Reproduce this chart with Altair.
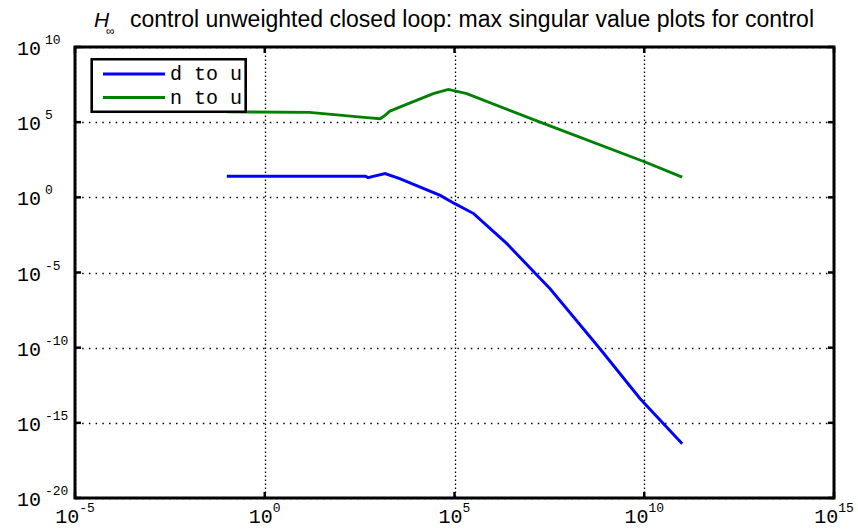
import altair as alt
import pandas as pd

# ---------------- data ----------------
TITLE_H = "H"
TITLE_SUB = "\u221e"
TITLE_TEXT = "control unweighted closed loop: max singular value plots for control"

series_names = ["d to u", "n to u"]
series_colors = ["#0000ff", "#008000"]

d_freq = [0.1, 450, 525, 720, 1480, 3600, 4.2e4, 1.02e5, 3.2e5, 2.4e6, 1.5e7, 3.3e7, 6.8e8, 7.8e9, 1e11]
d_mag = [25, 25, 20.4, 25, 38, 17.4, 1.35, 0.38, 0.083, 8.3e-4, 6.5e-6, 8.3e-7, 8.5e-11, 4.0e-14, 4.1e-17]

n_freq = [0.1, 15, 490, 1100, 1480, 2000, 3600, 2.75e4, 6.9e4, 2.1e5, 1.8e7, 1.05e10, 1e11]
n_mag = [4.8e5, 4.5e5, 2.0e5, 1.7e5, 2.8e5, 5.5e5, 1.0e6, 7.9e6, 1.5e7, 7.9e6, 1.0e5, 224, 22]

x_tick_exps = ["-5", "0", "5", "10", "15"]
y_tick_exps = ["10", "5", "0", "-5", "-10", "-15", "-20"]
tick_base = "10"

# ---------------- layout ----------------
W, H = 759, 451
MONO = "Liberation Mono"
SANS = "Liberation Sans"
BASE_FS, EXP_FS = 20, 13

rows = []
for name, fs, ms in [(series_names[0], d_freq, d_mag), (series_names[1], n_freq, n_mag)]:
    for i, (f, m) in enumerate(zip(fs, ms)):
        rows.append({"series": name, "f": f, "m": m, "i": i})
lines_df = pd.DataFrame(rows)

xs = alt.Scale(type="log", domain=[1e-5, 1e15], nice=False)
ys = alt.Scale(type="log", domain=[1e-20, 1e10], nice=False)

xt_df = pd.DataFrame({"exp": x_tick_exps, "base": tick_base})
xt_df["f"] = [10.0 ** int(e) for e in x_tick_exps]
yt_df = pd.DataFrame({"exp": y_tick_exps, "base": tick_base})
yt_df["m"] = [10.0 ** int(e) for e in y_tick_exps]

x_axis = alt.Axis(values=list(xt_df["f"]), grid=True, gridColor="black", gridDash=[1.5, 2.5],
                  gridWidth=1.3, gridOpacity=1, labels=False, ticks=False, domain=False, title=None)
y_axis = alt.Axis(values=list(yt_df["m"]), grid=True, gridColor="black", gridDash=[1.5, 5.2],
                  gridWidth=1.3, gridOpacity=1, labels=False, ticks=False, domain=False, title=None)

X = alt.X("f:Q", scale=xs, axis=x_axis)
Y = alt.Y("m:Q", scale=ys, axis=y_axis)

lines = alt.Chart(lines_df).mark_line(strokeWidth=2.9).encode(
    x=X, y=Y,
    color=alt.Color("series:N", scale=alt.Scale(domain=series_names, range=series_colors), legend=None),
    order="i:Q",
)

layers = [lines]

# legend (drawn over the lines, like the reference box)
one = pd.DataFrame({"k": [0]})
layers.append(alt.Chart(one).mark_rect(fill="white", stroke="black", strokeWidth=2.6).encode(
    x=alt.value(16.7), x2=alt.value(170.7), y=alt.value(12.3), y2=alt.value(64.7)))
for k, (name, col) in enumerate(zip(series_names, series_colors)):
    yy = 27 + k * 23.5
    layers.append(alt.Chart(one).mark_rule(color=col, strokeWidth=2.9).encode(
        x=alt.value(28), x2=alt.value(90), y=alt.value(yy)))
    layers.append(alt.Chart(pd.DataFrame({"t": [name]})).mark_text(
        font=MONO, fontSize=BASE_FS, align="left", baseline="middle", color="black").encode(
        x=alt.value(95), y=alt.value(yy), text="t:N"))

# inward tick marks on all four sides
TL = 6
layers.append(alt.Chart(xt_df).mark_rule(color="black", strokeWidth=2.5).encode(
    x=X, y=alt.value(H), y2=alt.value(H - TL)))
layers.append(alt.Chart(xt_df).mark_rule(color="black", strokeWidth=2.5).encode(
    x=X, y=alt.value(0), y2=alt.value(TL)))
layers.append(alt.Chart(yt_df).mark_rule(color="black", strokeWidth=2.5).encode(
    y=Y, x=alt.value(0), x2=alt.value(TL)))
layers.append(alt.Chart(yt_df).mark_rule(color="black", strokeWidth=2.5).encode(
    y=Y, x=alt.value(W), x2=alt.value(W - TL)))

# x tick labels: "10" + superscript exponent, centred on tick
char_w_base = 0.6 * BASE_FS
char_w_exp = 0.6 * EXP_FS
xt_df["n"] = xt_df["exp"].str.len()
for n, g in xt_df.groupby("n"):
    anchor = (2 * char_w_base - n * char_w_exp) / 2
    layers.append(alt.Chart(g).mark_text(font=MONO, fontSize=BASE_FS, align="right", baseline="middle",
                                         dx=anchor, color="black").encode(
        x=X, y=alt.value(H + 19), text="base:N"))
    layers.append(alt.Chart(g).mark_text(font=MONO, fontSize=EXP_FS, align="left", baseline="middle",
                                         dx=anchor, color="black").encode(
        x=X, y=alt.value(H + 10), text="exp:N"))

# y tick labels
layers.append(alt.Chart(yt_df).mark_text(font=MONO, fontSize=BASE_FS, align="left", baseline="middle",
                                         dy=2, color="black").encode(
    y=Y, x=alt.value(-58), text="base:N"))
layers.append(alt.Chart(yt_df).mark_text(font=MONO, fontSize=EXP_FS, align="left", baseline="middle",
                                         dy=-7, color="black").encode(
    y=Y, x=alt.value(-30), text="exp:N"))

# title: italic H with subscript infinity, then the rest
layers.append(alt.Chart(pd.DataFrame({"t": [TITLE_H]})).mark_text(
    font=SANS, fontSize=21, fontStyle="italic", align="left", baseline="alphabetic", color="black").encode(
    x=alt.value(19), y=alt.value(-20), text="t:N"))
layers.append(alt.Chart(pd.DataFrame({"t": [TITLE_SUB]})).mark_text(
    font=SANS, fontSize=12, align="left", baseline="top", color="black").encode(
    x=alt.value(31), y=alt.value(-21), text="t:N"))
layers.append(alt.Chart(pd.DataFrame({"t": [TITLE_TEXT]})).mark_text(
    font=SANS, fontSize=23, align="left", baseline="alphabetic", color="black").encode(
    x=alt.value(55), y=alt.value(-20), text="t:N"))

chart = alt.layer(*layers).properties(
    width=W, height=H,
    padding={"left": 75, "top": 47, "right": 24, "bottom": 32},
    autosize=alt.AutoSizeParams(type="none"),
    background="white",
).configure_view(stroke="black", strokeWidth=3)

chart.save("out.html", embed_options={"renderer": "svg", "actions": False})
